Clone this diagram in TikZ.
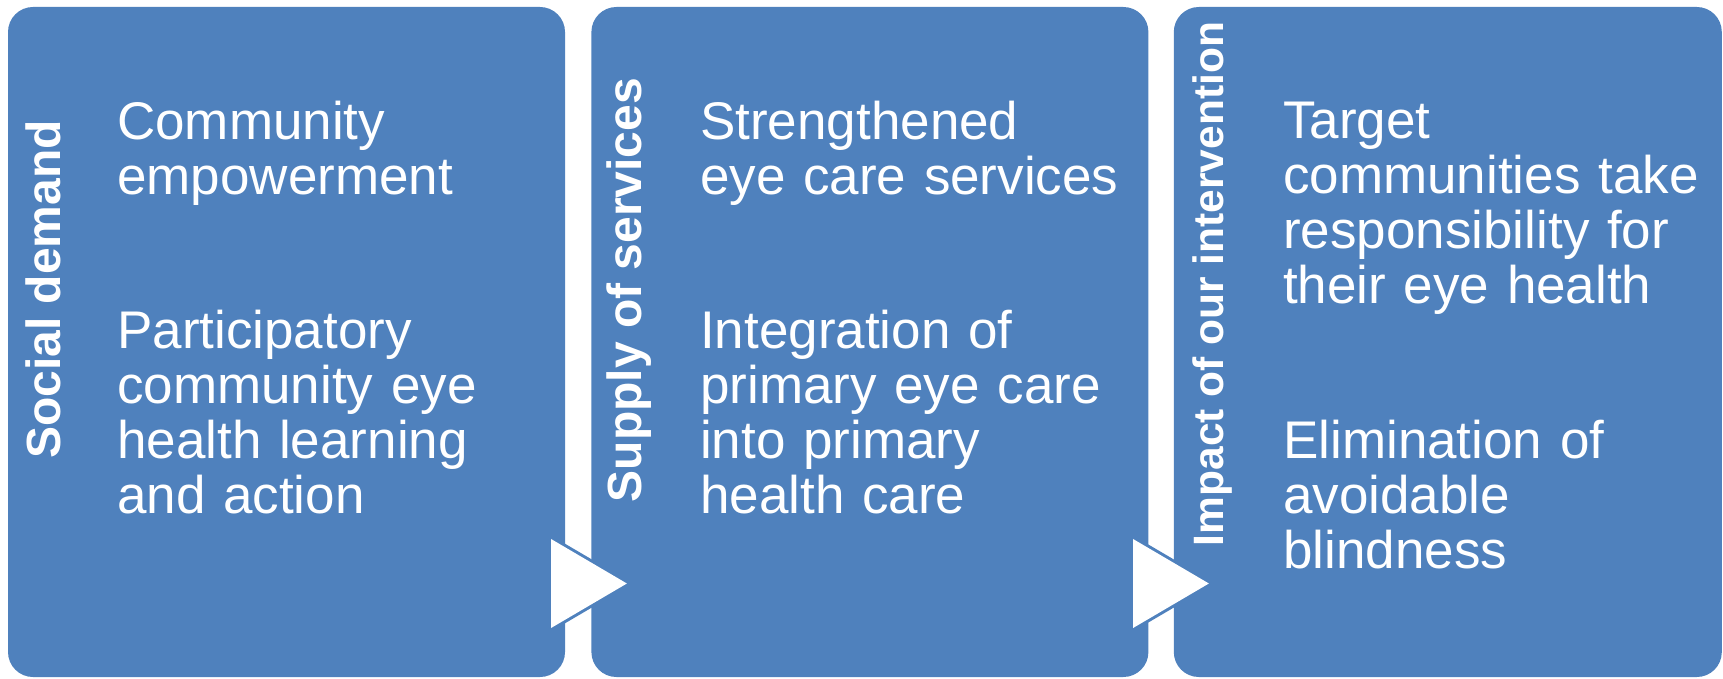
\documentclass[tikz,border=0pt]{standalone}
\usepackage{fontspec}
\setmainfont{Liberation Sans}
\usetikzlibrary{positioning}
\definecolor{boxblue}{HTML}{4F81BD}

\begin{document}
\begin{tikzpicture}[x=1pt,y=-1pt,
                    block/.style={fill=boxblue,draw=none,rounded corners=25pt,
                                  minimum width=557pt,minimum height=670pt,inner sep=0pt},
                    title/.style={text=white,font=\bfseries\fontsize{48}{50}\selectfont,
                                  rotate=90,anchor=base,inner sep=0pt},
                    item/.style={text=white,font=\fontsize{53}{55}\selectfont,
                                 anchor=base west,align=left,text width=430pt,inner sep=0pt},
                    flow/.style={draw=boxblue,double=white,double distance=10pt,
                                 line width=3pt,line join=miter,postaction={fill=white}}]
  \useasboundingbox (0,0) rectangle (1723,679);

  \node[block]         (SD) at (286.5,342) {};
  \node[block]         (SS) [right=26pt of SD] {};
  \node[block, minimum width=548pt] (IM) [right=25pt of SS] {};

  % arrows between the blocks
  \draw[flow] (556,547.7) -- (617,583.5) -- (556,619.3) -- cycle;
  \draw[flow] (1138,547.7) -- (1199,583.5) -- (1138,619.3) -- cycle;

  \node[title]         (SDt) at (60,289.5) {Social demand};
  \node[title]         (SSt) at (641,290) {Supply of services};
  \node[title, font=\bfseries\fontsize{42.5}{44}\selectfont]
                       (IMt) at (1223,284) {Impact of our intervention};

  \node[item]          (SD1) at (117,140) {Community\\empowerment};
  \node[item]          (SD2) at (117,348) {Participatory\\community eye\\health learning\\and action};
  \node[item]          (SS1) at (700,140) {Strengthened\\eye care services};
  \node[item]          (SS2) at (700,348) {Integration of\\primary eye care\\into primary\\health care};
  \node[item]          (IM1) at (1283,139) {Target\\communities take\\responsibility for\\their eye health};
  \node[item]          (IM2) at (1283,458) {Elimination of\\avoidable\\blindness};
\end{tikzpicture}
\end{document}
